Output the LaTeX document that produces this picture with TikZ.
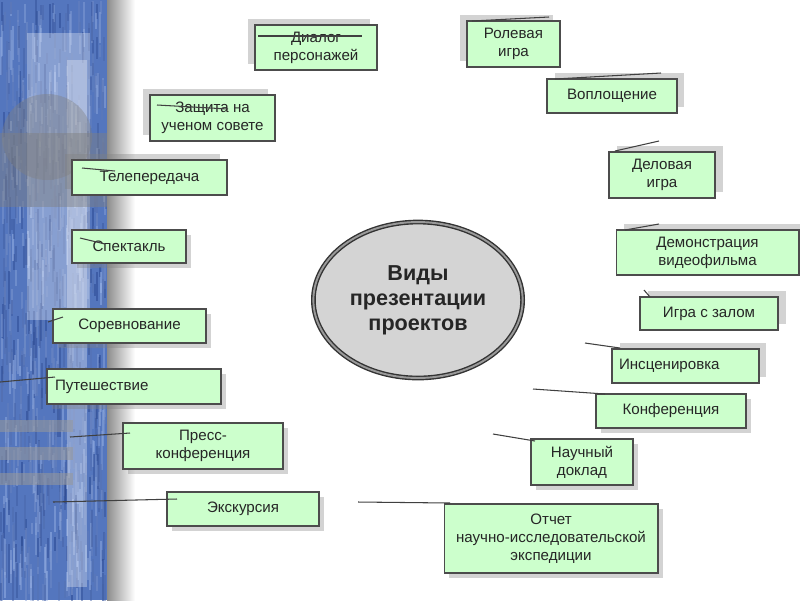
\documentclass[tikz,border=0pt]{standalone}
\usepackage{fontspec}
\setmainfont{Liberation Sans}
\usetikzlibrary{shapes.geometric, shadows}

\definecolor{boxgreen}{RGB}{204,255,204}
\definecolor{stripdark}{RGB}{30,60,135}
\definecolor{striplight}{RGB}{165,190,238}
\definecolor{stripbase}{RGB}{84,118,190}

\begin{document}
\begin{tikzpicture}[
        x=0.02cm, y=-0.02cm,
        box/.style={rectangle, draw=black!70, line width=0.6pt, fill=boxgreen, inner sep=0pt, align=center, text=black!85, font=\fontsize{8.6}{10.2}\selectfont},
        shtl/.style={drop shadow={shadow xshift=-0.14cm, shadow yshift=0.13cm, opacity=.35}},
        shtr/.style={drop shadow={shadow xshift=0.15cm, shadow yshift=0.13cm, opacity=.35}},
        shbr/.style={drop shadow={shadow xshift=0.1cm, shadow yshift=-0.1cm, opacity=.35}},
        hub/.style={ellipse, draw=black!80, line width=0.8pt, double=black!40, double distance=1.1pt, fill=black!17, align=center, text=black!85, font=\fontsize{12.3}{14.2}\selectfont\bfseries},
        stub/.style={draw=black!75, line width=0.6pt}
    ]
        \useasboundingbox (0,0) rectangle (800,600);

        % фон слева
        \fill[stripbase] (0,0) rectangle (107,600);
        \pgfmathsetseed{11}
        \foreach \i in {1,...,900} {
            \pgfmathsetmacro\xx{rnd*105}
            \pgfmathsetmacro\yy{rnd*585}
            \pgfmathsetmacro\ll{10+rnd*30}
            \pgfmathsetmacro\cc{rnd*100}
            \fill[striplight!\cc!stripdark, opacity=.45] (\xx,\yy) rectangle ++(2,\ll);
        }
        \fill[white, opacity=.3] (27,33) rectangle (90,320);
        \fill[white, opacity=.3] (67,60) rectangle (87,587);
        \fill[gray, opacity=.4] (47,137) ellipse (45 and 43);
        \fill[gray, opacity=.45] (0,133) rectangle (107,207);
        \fill[gray!80, opacity=.55] (0,420) rectangle (73,432);
        \fill[gray!80, opacity=.55] (0,447) rectangle (73,460);
        \fill[gray!80, opacity=.55] (0,473) rectangle (73,485);
        \shade[left color=black!45, right color=white] (107,0) rectangle (135,600);

        % центр
        \node (hub) [hub, minimum width=4.16cm, minimum height=3.12cm] at (418,300) {Виды\\презентации\\проектов};

        % блоки
        \node (dialog) [box, shtl, minimum width=2.44cm, minimum height=0.90cm] at (316,47.5) {Диалог\\персонажей};
        \node (role) [box, shtl, minimum width=1.86cm, minimum height=0.92cm] at (513.5,44) {Ролевая\\игра};
        \node (embody) [box, shtr, minimum width=2.60cm, minimum height=0.68cm] at (612,96) {Воплощение};
        \node (business) [box, shtr, minimum width=2.12cm, minimum height=0.92cm] at (662,175) {Деловая\\игра};
        \node (defense) [box, shtl, minimum width=2.50cm, minimum height=0.92cm] at (212.5,118) {Защита на\\ученом совете};
        \node (tv) [box, shtl, minimum width=3.10cm, minimum height=0.70cm] at (149.5,177.5) {Телепередача};
        \node (play) [box, shbr, minimum width=2.28cm, minimum height=0.66cm] at (129,246.5) {Спектакль};
        \node (contest) [box, shbr, minimum width=3.06cm, minimum height=0.68cm] at (129.5,326) {Соревнование};
        \node (trip) [box, shbr, align=left, text width=3.16cm, inner xsep=0.16cm, minimum height=0.70cm] at (134,386.5) {Путешествие};
        \node (press) [box, shbr, minimum width=3.20cm, minimum height=0.92cm] at (203,446) {Пресс-\\конференция};
        \node (excursion) [box, shbr, minimum width=3.04cm, minimum height=0.68cm] at (243,509) {Экскурсия};
        \node (report) [box, shbr, minimum width=4.28cm, minimum height=1.38cm] at (551,538.5) {Отчет\\научно-исследовательской\\экспедиции};
        \node (talk) [box, shbr, minimum width=2.04cm, minimum height=0.92cm] at (582,462) {Научный\\доклад};
        \node (conf) [box, shbr, minimum width=3.00cm, minimum height=0.68cm] at (671,411) {Конференция};
        \node (stage) [box, shtr, align=left, text width=2.66cm, inner xsep=0.14cm, minimum height=0.68cm] at (685.5,366) {Инсценировка};
        \node (hall) [box, shtr, minimum width=2.76cm, minimum height=0.66cm] at (709,313.5) {Игра с залом};
        \node (demo) [box, shtr, minimum width=3.66cm, minimum height=0.90cm] at (707.5,252.5) {Демонстрация\\видеофильма};

        % обрывки связей
        \coordinate (dialog-a) at (258,36);    \coordinate (dialog-b) at (362,36);
        \coordinate (role-a) at (472,21);      \coordinate (role-b) at (549,17);
        \coordinate (embody-a) at (555,79);    \coordinate (embody-b) at (661,73);
        \coordinate (business-a) at (615,151); \coordinate (business-b) at (659,141);
        \coordinate (defense-a) at (157,105);  \coordinate (defense-b) at (228,109);
        \coordinate (tv-a) at (82,168);        \coordinate (tv-b) at (115,171);
        \coordinate (play-a) at (80,238);      \coordinate (play-b) at (105,244);
        \coordinate (contest-a) at (48,322);   \coordinate (contest-b) at (63,317);
        \coordinate (trip-a) at (0,382);       \coordinate (trip-b) at (55,377);
        \coordinate (press-a) at (70,437);     \coordinate (press-b) at (130,433);
        \coordinate (excursion-a) at (53,502); \coordinate (excursion-b) at (177,499);
        \coordinate (report-a) at (358,502);   \coordinate (report-b) at (450,503);
        \coordinate (talk-a) at (493,434);     \coordinate (talk-b) at (535,441);
        \coordinate (conf-a) at (533,389);     \coordinate (conf-b) at (605,394);
        \coordinate (stage-a) at (585,343);    \coordinate (stage-b) at (620,348);
        \coordinate (hall-a) at (644,290);     \coordinate (hall-b) at (650,297);
        \coordinate (demo-a) at (625,230);     \coordinate (demo-b) at (659,224);

        \draw [stub] (dialog-a) -- (dialog-b);
        \draw [stub] (role-a) -- (role-b);
        \draw [stub] (embody-a) -- (embody-b);
        \draw [stub] (business-a) -- (business-b);
        \draw [stub] (defense-a) -- (defense-b);
        \draw [stub] (tv-a) -- (tv-b);
        \draw [stub] (play-a) -- (play-b);
        \draw [stub] (contest-a) -- (contest-b);
        \draw [stub] (trip-a) -- (trip-b);
        \draw [stub] (press-a) -- (press-b);
        \draw [stub] (excursion-a) -- (excursion-b);
        \draw [stub] (report-a) -- (report-b);
        \draw [stub] (talk-a) -- (talk-b);
        \draw [stub] (conf-a) -- (conf-b);
        \draw [stub] (stage-a) -- (stage-b);
        \draw [stub] (hall-a) -- (hall-b);
        \draw [stub] (demo-a) -- (demo-b);
    \end{tikzpicture}
\end{document}
